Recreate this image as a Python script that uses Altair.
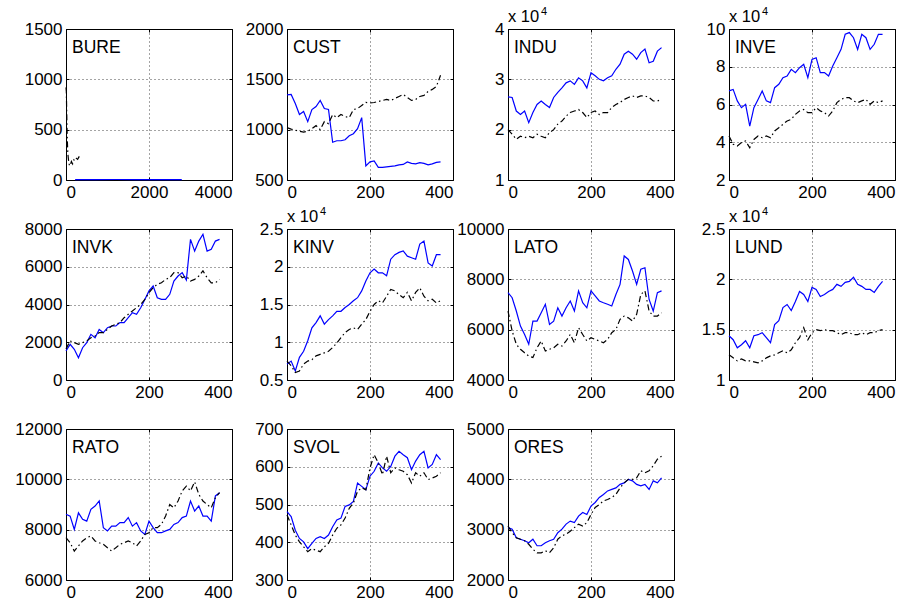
import altair as alt
import pandas as pd

# Sample index (trading day) for the 11 stock panels
DAY = list(range(0, 371, 10))

# BURE has its own time axis (0..4000)
BURE_A_DAY = [220, 700, 1200, 1700, 2200, 2790]
BURE_A = [4, 3, 5, 4, 3, 4]
BURE_B_DAY = [0, 8, 16, 24, 32, 45, 60, 80, 100, 130, 160, 190, 220, 250, 280, 320]
BURE_B = [920, 880, 700, 520, 390, 260, 200, 150, 140, 185, 160, 200, 190, 215, 205, 235]

# Solid (blue) and dash-dot (black) series per stock
CUST_A = [1345, 1350, 1260, 1150, 1180, 1080, 1200, 1230, 1290, 1210, 1200, 875, 890, 890, 900, 940,
          960, 1010, 1120, 640, 680, 690, 625, 625, 630, 635, 640, 650, 655, 680, 665, 660, 672, 665,
          650, 660, 675, 680]
CUST_B = [1020, 1005, 995, 985, 975, 985, 1010, 1040, 1000, 1080, 1060, 1150, 1120, 1150, 1130, 1120,
          1200, 1210, 1240, 1270, 1265, 1270, 1280, 1290, 1300, 1290, 1310, 1330, 1350, 1320, 1290,
          1300, 1330, 1340, 1380, 1400, 1430, 1540]

INDU_A = [2.65, 2.64, 2.37, 2.30, 2.37, 2.14, 2.34, 2.50, 2.57, 2.50, 2.44, 2.64, 2.74, 2.83, 2.93,
          2.97, 2.90, 3.03, 2.97, 2.83, 3.13, 3.07, 3.00, 2.97, 3.03, 3.07, 3.20, 3.30, 3.50, 3.56,
          3.50, 3.40, 3.53, 3.60, 3.33, 3.36, 3.56, 3.63]
INDU_B = [2.00, 1.91, 1.81, 1.87, 1.84, 1.87, 1.84, 1.91, 1.87, 1.84, 1.94, 2.00, 2.11, 2.17, 2.27,
          2.34, 2.37, 2.40, 2.34, 2.24, 2.34, 2.37, 2.30, 2.34, 2.34, 2.44, 2.50, 2.54, 2.60, 2.64,
          2.67, 2.64, 2.67, 2.67, 2.64, 2.57, 2.57, 2.60]

INVE_A = [6.72, 6.80, 6.19, 5.83, 6.01, 4.86, 5.83, 6.27, 6.72, 6.19, 6.10, 6.89, 7.07, 7.42, 7.51,
          7.86, 7.69, 7.95, 8.13, 7.42, 8.39, 8.48, 7.69, 7.69, 7.51, 8.04, 8.48, 8.92, 9.72, 9.81,
          9.54, 8.92, 9.72, 9.54, 8.92, 9.19, 9.72, 9.72]
INVE_B = [4.33, 3.89, 3.80, 3.98, 4.07, 3.71, 4.15, 4.33, 4.24, 4.33, 4.24, 4.60, 4.77, 4.95, 5.13,
          5.21, 5.48, 5.66, 5.74, 5.57, 5.57, 5.83, 5.66, 5.57, 5.39, 5.66, 6.10, 6.27, 6.36, 6.36,
          6.19, 6.10, 6.19, 6.27, 6.01, 6.19, 6.10, 6.19]

INVK_A = [1540, 1890, 1625, 1180, 1710, 1980, 2420, 2240, 2680, 2510, 2770, 2860, 2860, 3040, 3040,
          3300, 3570, 3480, 3830, 4270, 4720, 4980, 4360, 4270, 4270, 4540, 5240, 5510, 5690, 5300,
          7450, 6830, 7360, 7720, 6830, 6920, 7360, 7450]
INVK_B = [1650, 2070, 1980, 1890, 1980, 2070, 2240, 2330, 2510, 2510, 2680, 2860, 2950, 3040, 3300,
          3480, 3660, 3830, 4010, 4270, 4630, 4890, 5070, 5150, 5330, 5420, 5690, 5690, 5420, 5510,
          5240, 5330, 5510, 5780, 5420, 5150, 5150, 5330]

KINV_A = [0.71, 0.75, 0.62, 0.80, 0.88, 1.02, 1.19, 1.26, 1.35, 1.24, 1.30, 1.35, 1.41, 1.41, 1.46,
          1.50, 1.55, 1.59, 1.68, 1.81, 1.92, 1.97, 1.92, 1.92, 1.88, 2.10, 2.16, 2.19, 2.21, 2.14,
          2.12, 2.10, 2.30, 2.34, 2.05, 2.01, 2.16, 2.16]
KINV_B = [0.75, 0.69, 0.60, 0.62, 0.71, 0.75, 0.77, 0.82, 0.84, 0.86, 0.88, 0.93, 0.99, 1.06, 1.13,
          1.17, 1.19, 1.17, 1.24, 1.30, 1.41, 1.50, 1.55, 1.52, 1.61, 1.70, 1.68, 1.63, 1.59, 1.66,
          1.55, 1.66, 1.72, 1.61, 1.55, 1.57, 1.52, 1.55]

LATO_A = [7470, 7270, 6740, 6140, 5810, 5420, 6340, 6340, 6670, 7010, 6210, 6340, 6870, 6540, 6870,
          7140, 6740, 7540, 7070, 6870, 7540, 7340, 7140, 7070, 7010, 6940, 7400, 7800, 8930, 8790,
          8330, 7800, 8400, 8460, 7200, 6740, 7470, 7540]
LATO_B = [6740, 5950, 5420, 5220, 5080, 4950, 4890, 5280, 5550, 5150, 5220, 5280, 5420, 5350, 5550,
          5810, 5480, 6080, 5810, 5550, 5680, 5610, 5550, 5480, 5610, 5880, 6010, 6410, 6540, 6470,
          6340, 6610, 7400, 7540, 6740, 6540, 6540, 6670]

LUND_A = [1.44, 1.40, 1.32, 1.35, 1.39, 1.32, 1.44, 1.45, 1.47, 1.42, 1.37, 1.55, 1.59, 1.72, 1.75,
          1.69, 1.78, 1.88, 1.85, 1.78, 1.92, 1.90, 1.83, 1.85, 1.88, 1.90, 1.95, 1.93, 1.97, 1.98,
          2.02, 1.95, 1.93, 1.90, 1.90, 1.87, 1.93, 1.98]
LUND_B = [1.25, 1.22, 1.19, 1.21, 1.19, 1.19, 1.18, 1.17, 1.19, 1.22, 1.24, 1.25, 1.27, 1.29, 1.27,
          1.30, 1.37, 1.42, 1.52, 1.40, 1.47, 1.50, 1.49, 1.50, 1.49, 1.49, 1.47, 1.45, 1.47, 1.47,
          1.45, 1.45, 1.47, 1.45, 1.47, 1.47, 1.49, 1.50]

RATO_A = [8610, 8540, 8010, 8670, 8410, 8340, 8810, 8940, 9140, 8080, 7950, 8140, 8140, 8280, 8280,
          8480, 8140, 8280, 7950, 7810, 8340, 8080, 7880, 7880, 7950, 8010, 8210, 8280, 8480, 8540,
          9140, 8740, 8940, 8540, 8540, 8340, 9340, 9470]
RATO_B = [7680, 7480, 7150, 7350, 7550, 7680, 7750, 7550, 7480, 7420, 7280, 7150, 7280, 7420, 7480,
          7550, 7480, 7350, 7550, 7810, 7880, 8080, 8080, 8210, 8540, 9000, 8870, 9140, 9540, 9730,
          9540, 9900, 9400, 9140, 9000, 8870, 9270, 9470]

SVOL_A = [481, 468, 432, 410, 401, 383, 397, 410, 415, 410, 419, 441, 459, 464, 495, 499, 508, 557,
          548, 539, 575, 588, 610, 597, 588, 601, 628, 641, 632, 624, 592, 615, 632, 641, 597, 606,
          632, 619]
SVOL_B = [472, 446, 419, 401, 388, 375, 383, 379, 375, 388, 397, 419, 437, 446, 464, 490, 504, 535,
          544, 539, 597, 632, 610, 579, 628, 584, 597, 592, 588, 579, 557, 584, 575, 584, 566, 570,
          575, 584]

ORES_A = [3040, 3010, 2840, 2810, 2780, 2740, 2810, 2680, 2680, 2740, 2780, 2810, 2940, 3010, 3110,
          3170, 3140, 3270, 3340, 3300, 3470, 3540, 3640, 3700, 3770, 3800, 3830, 3900, 3930, 4000,
          3970, 3900, 3870, 3900, 3800, 3970, 3930, 4030]
ORES_B = [3070, 2940, 2840, 2810, 2780, 2710, 2610, 2540, 2540, 2580, 2540, 2640, 2810, 2880, 2910,
          2970, 3040, 3110, 3070, 3140, 3300, 3440, 3500, 3570, 3600, 3640, 3700, 3830, 3930, 4000,
          4000, 4030, 4170, 4130, 4170, 4270, 4400, 4460]

T400 = [0, 200, 400]

# name, solid x, solid y, dash-dot x, dash-dot y, x domain, x ticks, y domain, y ticks, x10^4 label
PANELS = [
    ("BURE", BURE_A_DAY, BURE_A, BURE_B_DAY, BURE_B, [0, 4000], [0, 2000, 4000], [0, 1500], [0, 500, 1000, 1500], False),
    ("CUST", DAY, CUST_A, DAY, CUST_B, [0, 400], T400, [500, 2000], [500, 1000, 1500, 2000], False),
    ("INDU", DAY, INDU_A, DAY, INDU_B, [0, 400], T400, [1, 4], [1, 2, 3, 4], True),
    ("INVE", DAY, INVE_A, DAY, INVE_B, [0, 400], T400, [2, 10], [2, 4, 6, 8, 10], True),
    ("INVK", DAY, INVK_A, DAY, INVK_B, [0, 400], T400, [0, 8000], [0, 2000, 4000, 6000, 8000], False),
    ("KINV", DAY, KINV_A, DAY, KINV_B, [0, 400], T400, [0.5, 2.5], [0.5, 1, 1.5, 2, 2.5], True),
    ("LATO", DAY, LATO_A, DAY, LATO_B, [0, 400], T400, [4000, 10000], [4000, 6000, 8000, 10000], False),
    ("LUND", DAY, LUND_A, DAY, LUND_B, [0, 400], T400, [1, 2.5], [1, 1.5, 2, 2.5], True),
    ("RATO", DAY, RATO_A, DAY, RATO_B, [0, 400], T400, [6000, 12000], [6000, 8000, 10000, 12000], False),
    ("SVOL", DAY, SVOL_A, DAY, SVOL_B, [0, 400], T400, [300, 700], [300, 400, 500, 600, 700], False),
    ("ORES", DAY, ORES_A, DAY, ORES_B, [0, 400], T400, [2000, 5000], [2000, 3000, 4000, 5000], False),
]

FONT = "Liberation Sans"
W, H = 166, 151
PLAIN = "'' + datum.value"
TICK = 3  # inward tick length


def panel(name, xa, ya, xb, yb, xdom, xticks, ydom, yticks, exp):
    df = pd.DataFrame({
        "t": list(xa) + list(xb),
        "v": list(ya) + list(yb),
        "s": ["a"] * len(xa) + ["b"] * len(xb),
    })
    xs = alt.Scale(domain=xdom, nice=False, zero=False)
    ys = alt.Scale(domain=ydom, nice=False, zero=False)
    base = alt.Chart(df)
    # bottom / left axes carry the labels and the dotted grid
    solid = base.transform_filter("datum.s == 'a'").mark_line(
        color="#0000ff", strokeWidth=1.2
    ).encode(
        x=alt.X("t:Q", scale=xs, axis=alt.Axis(values=xticks, title=None, labelExpr=PLAIN,
                                               orient="bottom", offset=-TICK)),
        y=alt.Y("v:Q", scale=ys, axis=alt.Axis(values=yticks, title=None, labelExpr=PLAIN,
                                               orient="left", offset=-TICK)),
        order="t:Q",
    )
    # top / right axes only add the inward ticks of the box
    dashdot = base.transform_filter("datum.s == 'b'").mark_line(
        color="black", strokeWidth=1.2, strokeDash=[6, 3, 1.5, 3]
    ).encode(
        x=alt.X("t:Q", scale=xs, axis=alt.Axis(values=xticks, title=None, labels=False,
                                               grid=False, orient="top", offset=-TICK)),
        y=alt.Y("v:Q", scale=ys, axis=alt.Axis(values=yticks, title=None, labels=False,
                                               grid=False, orient="right", offset=-TICK)),
        order="t:Q",
    )
    label = alt.Chart(pd.DataFrame({"n": [name]})).mark_text(
        align="left", baseline="alphabetic", font=FONT, fontSize=17.5, color="black"
    ).encode(text="n:N", x=alt.value(6), y=alt.value(24))
    layers = [solid, dashdot, label]
    if exp:
        ex = alt.Chart(pd.DataFrame({"n": ["x 10"]})).mark_text(
            align="left", baseline="alphabetic", font=FONT, fontSize=16.5, color="black"
        ).encode(text="n:N", x=alt.value(0), y=alt.value(-7))
        sup = alt.Chart(pd.DataFrame({"n": ["4"]})).mark_text(
            align="left", baseline="alphabetic", font=FONT, fontSize=11, color="black"
        ).encode(text="n:N", x=alt.value(33), y=alt.value(-14))
        layers += [ex, sup]
    return alt.layer(*layers).resolve_axis(x="independent", y="independent").properties(
        width=W, height=H)


charts = [panel(*p) for p in PANELS]

chart = alt.concat(
    *charts, columns=4, spacing={"row": 49, "column": 55}, bounds="flush"
).properties(
    padding={"left": 14, "top": 5, "right": 5, "bottom": 5},
    background="white",
).configure_view(
    stroke="black", strokeWidth=1
).configure_axis(
    domain=False, ticks=True, tickSize=TICK, tickColor="black", tickWidth=1,
    labelFont=FONT, labelFontSize=17, labelColor="black",
    labelPadding=4, grid=True, gridColor="black", gridDash=[1, 3], gridWidth=0.8,
    gridOpacity=0.9,
)

chart.save("out.html", embed_options={"renderer": "svg", "actions": False})
